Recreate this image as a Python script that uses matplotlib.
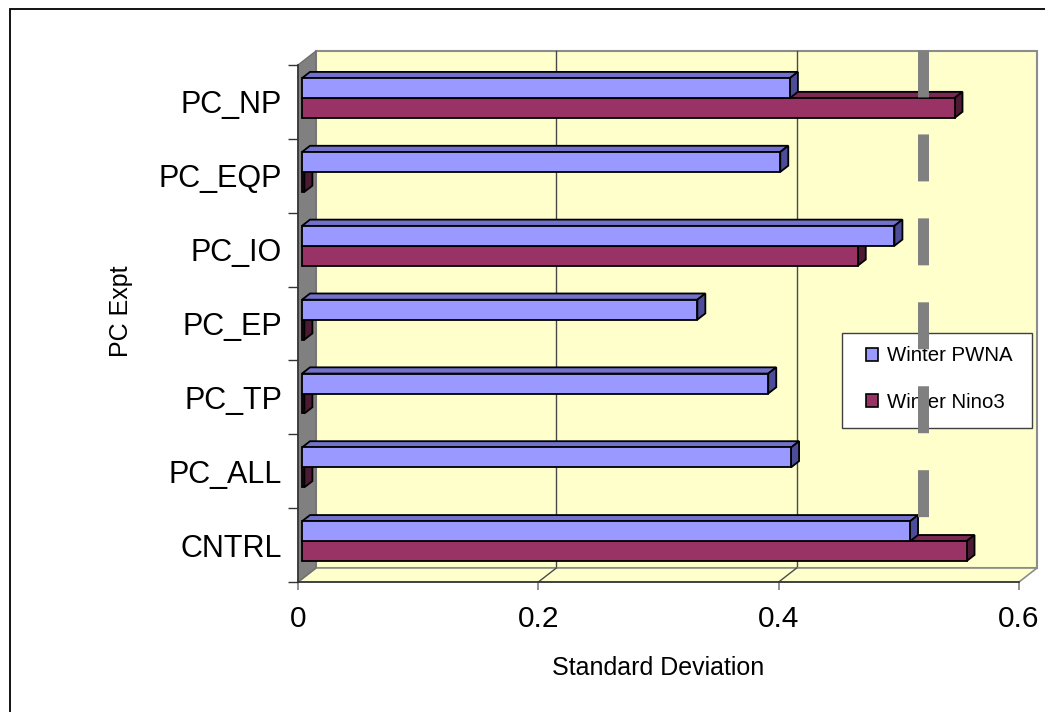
import numpy as np
import matplotlib
matplotlib.use("Agg")
import matplotlib.pyplot as plt
from matplotlib.patches import Polygon, Patch, Rectangle
from matplotlib.transforms import IdentityTransform

plt.rcParams['font.family'] = ['Liberation Sans', 'DejaVu Sans']

# ---- data ----
categories = ["CNTRL", "PC_ALL", "PC_TP", "PC_EP", "PC_IO", "PC_EQP", "PC_NP"]
series_names = ["Winter PWNA", "Winter Nino3"]
pwna = [0.506, 0.407, 0.388, 0.329, 0.493, 0.398, 0.406]
nino3 = [0.553, 0.002, 0.002, 0.002, 0.4625, 0.002, 0.543]
x_ticks = [0, 0.2, 0.4, 0.6]
x_tick_labels = ["0", "0.2", "0.4", "0.6"]
ref_value = 0.52          # dashed marker line
ref_span = (7.2, 0.87)    # top -> bottom, in category units

# ---- style ----
blue = ("#9999FF", "#7272CC", "#4C4C99")   # front, top, side
plum = ("#993366", "#7A2952", "#4D1A33")
wall_col = "#FFFFCC"
side_wall = "#808080"
DX, DY = 18, 14            # full depth of the 3D box in pixels
bar_d0, bar_d1 = 4 / 18, 12 / 18
bar_h = 0.27

W, H = 1045, 712
fig = plt.figure(figsize=(W / 100, H / 100), dpi=100)
ax = fig.add_axes([298 / W, 1 - 582 / H, (1019 - 298) / W, (582 - 65) / H])
ax.set_xlim(0, 0.6)
ax.set_ylim(0, len(categories))
ax.patch.set_visible(False)
ax.spines['top'].set_visible(False)
ax.spines['right'].set_visible(False)
for s in ('left', 'bottom'):
    ax.spines[s].set_color('#333333')
    ax.spines[s].set_linewidth(1.2)
    ax.spines[s].set_zorder(3)

xmax = ax.get_xlim()[1]
ymax = ax.get_ylim()[1]


def proj(x, y, d):
    p = ax.transData.transform((x, y))
    return (p[0] + d * DX, p[1] + d * DY)


def poly(pts, fc, ec, lw=1.2, z=1):
    ax.add_patch(Polygon(pts, closed=True, fc=fc, ec=ec, lw=lw,
                         transform=IdentityTransform(), clip_on=False, zorder=z))


def seg(p, q, color, lw=1.0, z=1.5):
    ax.add_line(plt.Line2D([p[0], q[0]], [p[1], q[1]], color=color, lw=lw,
                           transform=IdentityTransform(), clip_on=False, zorder=z))


# back wall, floor, left wall
poly([proj(0, 0, 1), proj(xmax, 0, 1), proj(xmax, ymax, 1), proj(0, ymax, 1)],
     wall_col, '#8c8c8c', lw=1.5, z=1)
poly([proj(0, 0, 0), proj(xmax, 0, 0), proj(xmax, 0, 1), proj(0, 0, 1)],
     wall_col, '#8c8c8c', lw=1.2, z=1.2)
poly([proj(0, 0, 0), proj(0, ymax, 0), proj(0, ymax, 1), proj(0, 0, 1)],
     side_wall, '#707070', lw=1.0, z=1.3)

for v in x_ticks[1:-1]:
    seg(proj(v, 0, 1), proj(v, ymax, 1), '#4a4a4a', lw=1.0, z=1.1)
    seg(proj(v, 0, 0), proj(v, 0, 1), '#4a4a4a', lw=1.0, z=1.25)


def bar(v, y0, cols, z):
    y1 = y0 + bar_h
    front = [proj(0, y0, bar_d0), proj(v, y0, bar_d0), proj(v, y1, bar_d0), proj(0, y1, bar_d0)]
    top = [proj(0, y1, bar_d0), proj(v, y1, bar_d0), proj(v, y1, bar_d1), proj(0, y1, bar_d1)]
    side = [proj(v, y0, bar_d0), proj(v, y0, bar_d1), proj(v, y1, bar_d1), proj(v, y1, bar_d0)]
    poly(top, cols[1], 'black', lw=1.3, z=z)
    poly(side, cols[2], 'black', lw=1.3, z=z)
    poly(front, cols[0], 'black', lw=1.3, z=z)


for i in range(len(categories)):
    bar(nino3[i], i + 0.51 - bar_h, plum, 2 + 0.1 * i)
    bar(pwna[i], i + 0.51, blue, 2.05 + 0.1 * i)

# ticks
ax.set_xticks(x_ticks)
ax.set_xticklabels(x_tick_labels)
ax.tick_params(axis='x', length=5.8, width=1.2, color='#808080', pad=10.5,
               labelsize=21.5)
ax.set_yticks(np.arange(len(categories) + 1))
ax.set_yticklabels([])
ax.set_yticks(np.arange(len(categories)) + 0.5, minor=True)
ax.set_yticklabels(categories, minor=True)
ax.tick_params(axis='y', which='major', length=7.2, width=1.0, color='#333333')
ax.tick_params(axis='y', which='minor', length=0, pad=11.5, labelsize=22)

# legend: box drawn separately so the padding can differ per side
box = Rectangle((842 / W, 1 - 428 / H), 190 / W, 95 / H, transform=fig.transFigure,
                fc='white', ec='#404040', lw=1.0, clip_on=False, zorder=4.9)
ax.add_patch(box)
handles = [Patch(fc=blue[0], ec='black', lw=1.2), Patch(fc=plum[0], ec='black', lw=1.2)]
leg = ax.legend(handles, series_names, loc='center left',
                bbox_to_anchor=(866 / W, 1 - 379 / H), bbox_transform=fig.transFigure,
                fontsize=14.7, frameon=False, handlelength=0.6, handleheight=0.6,
                handletextpad=0.45, labelspacing=1.35, borderpad=0, borderaxespad=0)
leg.set_zorder(5)

# dashed marker line, drawn over the legend
ax.plot([ref_value, ref_value], list(ref_span), color='#808080', lw=7.9,
        dashes=(4.28, 3.37), dash_capstyle='butt', solid_capstyle='butt',
        clip_on=False, zorder=6)

# axis titles
fig.text(658 / W, 1 - 668 / H, "Standard Deviation", ha='center', va='center', fontsize=18)
fig.text(121 / W, 1 - 311 / H, "PC Expt", ha='center', va='center', rotation=90, fontsize=18)

# outer frame
fig.add_artist(Rectangle((10 / W, -0.1), 1.2, 1.1 - 9 / H, fill=False, ec='black',
                         lw=1.3, transform=fig.transFigure, clip_on=False))

fig.savefig("out.png", dpi=100)
